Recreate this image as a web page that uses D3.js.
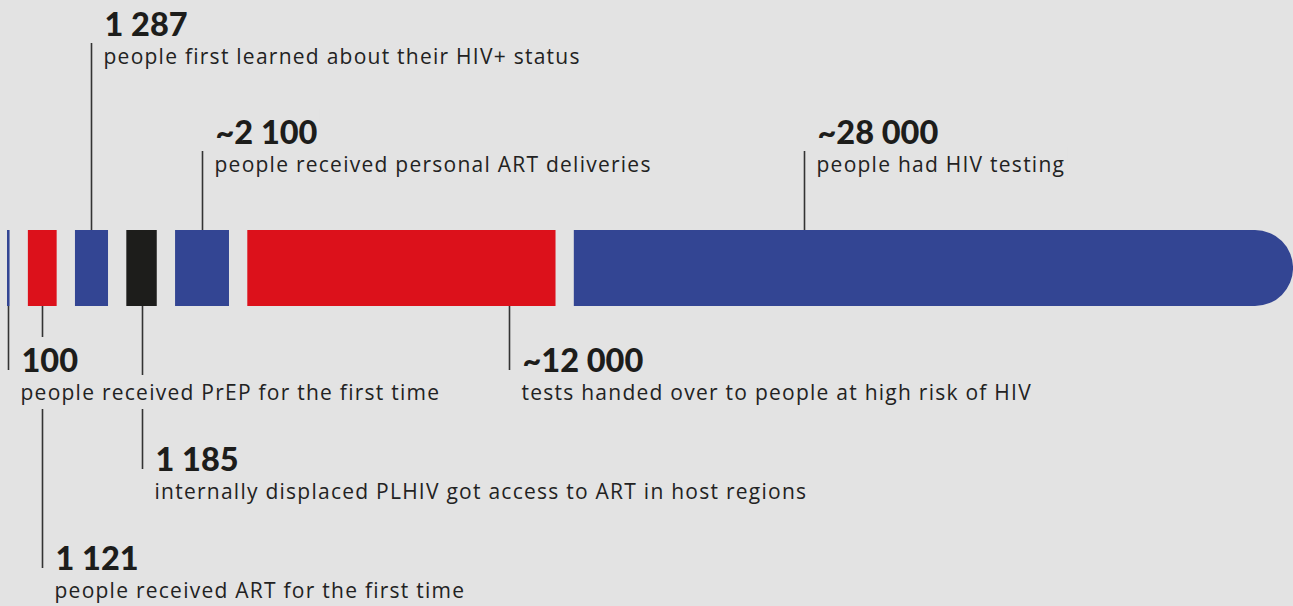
<!DOCTYPE html>
<html>
<head>
<meta charset="utf-8">
<script src="https://cdn.jsdelivr.net/npm/d3@7"></script>
<style>
  html, body { margin: 0; padding: 0; background: #e3e3e3; }
  svg { display: block; }
</style>
</head>
<body>
<svg id="chart" width="1293" height="606"></svg>
<script>
// ---- data ----
const values = [100, 1121, 1287, 1185, 2100, 12000, 28000];
const numberLabels = ["100", "1 121", "1 287", "1 185", "~2 100", "~12 000", "~28 000"];
const descriptions = [
  "people received PrEP for the first time",
  "people received ART for the first time",
  "people first learned about their HIV+ status",
  "internally displaced PLHIV got access to ART in host regions",
  "people received personal ART deliveries",
  "tests handed over to people at high risk of HIV",
  "people had HIV testing"
];
const kinds = ["blue", "red", "blue", "black", "blue", "red", "blue"];

// ---- layout / style ----
const W = 1293, H = 606;
const colors = { blue: "#334593", red: "#dc111b", black: "#1d1d1b" };
const bg = "#e3e3e3";
const barTop = 230, barH = 76, gap = 18.3, x0 = 7, x1 = 1293;
// label placement: side (top/bottom), number baseline, leader position along segment
const side = ["bottom", "bottom", "top", "bottom", "top", "bottom", "top"];
const numBaseline = [372, 570, 36, 471, 144, 372, 144];
const leaderFrac = [0.5, 0.5, 0.5, 0.5, 0.5, 0.85, 0.32];

const svg = d3.select("#chart");
svg.append("rect").attr("width", W).attr("height", H).attr("fill", bg);

const total = d3.sum(values);
const n = values.length;
const x = d3.scaleLinear().domain([0, total]).range([0, x1 - x0 - gap * (n - 1)]);

const cum = d3.cumsum(values);
const segs = values.map((v, i) => {
  const start = x0 + x(cum[i] - v) + gap * i;
  const w = x(v);
  return { i, v, start, w, kind: kinds[i] };
});

const gBars = svg.append("g");
gBars.selectAll("path").data(segs).join("path")
  .attr("fill", d => colors[d.kind])
  .attr("d", d => {
    if (d.i === n - 1) {
      const r = barH / 2;
      const p = d3.path();
      p.moveTo(d.start, barTop);
      p.lineTo(d.start + d.w - r, barTop);
      p.arc(d.start + d.w - r, barTop + r, r, -Math.PI / 2, Math.PI / 2);
      p.lineTo(d.start, barTop + barH);
      p.closePath();
      return p.toString();
    }
    return `M${d.start},${barTop}h${d.w}v${barH}h${-d.w}Z`;
  });

const gLines = svg.append("g");
const gKnock = svg.append("g");
const gText = svg.append("g");

const labels = segs.map(d => {
  const lx = d.start + d.w * leaderFrac[d.i];
  return { ...d, lx, side: side[d.i], nb: numBaseline[d.i] };
});

gLines.selectAll("line").data(labels).join("line")
  .attr("x1", d => Math.round(d.lx) + 0.5)
  .attr("x2", d => Math.round(d.lx) + 0.5)
  .attr("y1", d => d.side === "top" ? d.nb + 7 : barTop + barH)
  .attr("y2", d => d.side === "top" ? barTop : d.nb - 2)
  .attr("stroke", "#333")
  .attr("stroke-width", 1.6);

labels.forEach(d => {
  const tx = Math.round(d.lx) + 13.5;
  const t1 = gText.append("text")
    .attr("x", tx).attr("y", d.nb)
    .attr("font-family", "Lato, 'Open Sans', sans-serif")
    .attr("font-weight", 900)
    .attr("font-size", 32.5)
    .attr("fill", "#1d1d1b")
    .text(numberLabels[d.i]);
  const t2 = gText.append("text")
    .attr("x", tx - 1).attr("y", d.nb + 28)
    .attr("font-family", "'Open Sans', sans-serif")
    .attr("font-size", 21)
    .attr("letter-spacing", 1.25)
    .attr("fill", "#222")
    .text(descriptions[d.i]);
  [t1, t2].forEach(t => {
    const b = t.node().getBBox();
    gKnock.append("rect")
      .attr("x", b.x - 2).attr("y", b.y - 3)
      .attr("width", b.width + 4).attr("height", b.height + 6)
      .attr("fill", bg);
  });
});
</script>
</body>
</html>
